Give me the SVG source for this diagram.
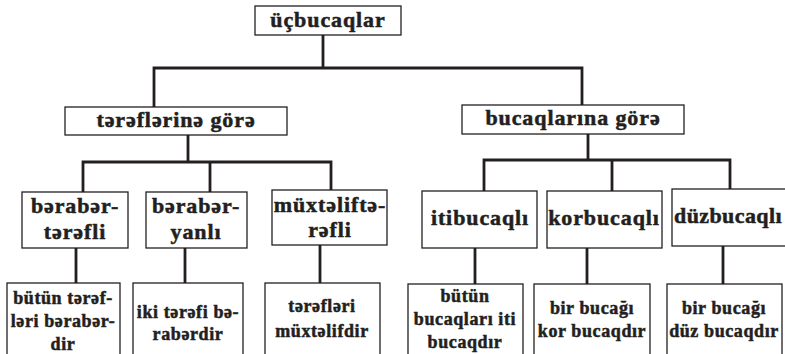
<svg xmlns="http://www.w3.org/2000/svg" width="785" height="354" viewBox="0 0 785 354">
  <style>
    .box { fill: #ffffff; stroke: #231f20; stroke-width: 1.3; }
    .wire { fill: none; stroke: #231f20; stroke-width: 2.8; stroke-linecap: square; }
    text { font-family: "Liberation Serif", "Times New Roman", "DejaVu Serif", serif; font-weight: 700; fill: #231f20; text-anchor: middle; stroke: #231f20; stroke-width: 0.5; }
    .big { font-size: 22px; letter-spacing: 0.9px; }
    .small { font-size: 18px; letter-spacing: 0.6px; }
    .tight { letter-spacing: 0.4px; }
  </style>
  <rect width="785" height="354" fill="#ffffff"/>

  <!-- connectors -->
  <g id="connectors" class="wire">
    <path d="M323 35 V68 M154 68 H582 M154 68 V107 M582 68 V105"/>
    <path d="M188 135 V162 M83 162 H331 M83 162 V192 M210 162 V192 M331 162 V190"/>
    <path d="M588 134 V160 M484 160 H730 M484 160 V191 M612 160 V191 M730 160 V189"/>
    <path d="M76 248 V283 M185 248 V283 M320 245 V283"/>
    <path d="M475 248 V284 M587 248 V284 M723 246 V284"/>
  </g>

  <!-- level 0 -->
  <g id="n-root">
    <rect class="box" x="255" y="6" width="146" height="29"/>
    <text class="big" x="328" y="27">üçbucaqlar</text>
  </g>

  <!-- level 1 -->
  <g id="n-sides">
    <rect class="box" x="65" y="107" width="222" height="28"/>
    <text class="big" x="176" y="127">tərəflərinə görə</text>
  </g>
  <g id="n-angles">
    <rect class="box" x="462" y="105" width="222" height="29"/>
    <text class="big" x="573" y="125">bucaqlarına görə</text>
  </g>

  <!-- level 2 -->
  <g id="n-equilateral">
    <rect class="box" x="22" y="192" width="106" height="56"/>
    <text class="big" x="75" y="213">bərabər-</text>
    <text class="big" x="75" y="239">tərəfli</text>
  </g>
  <g id="n-isosceles">
    <rect class="box" x="146" y="192" width="101" height="56"/>
    <text class="big" x="196" y="213">bərabər-</text>
    <text class="big" x="196" y="239">yanlı</text>
  </g>
  <g id="n-scalene">
    <rect class="box" x="272" y="190" width="115" height="55"/>
    <text class="big" x="330" y="212">müxtəliftə-</text>
    <text class="big" x="330" y="237">rəfli</text>
  </g>
  <g id="n-acute">
    <rect class="box" x="422" y="191" width="115" height="57"/>
    <text class="big" x="480" y="225">itibucaqlı</text>
  </g>
  <g id="n-obtuse">
    <rect class="box" x="547" y="191" width="115" height="57"/>
    <text class="big" x="604" y="225">korbucaqlı</text>
  </g>
  <g id="n-right">
    <rect class="box" x="672" y="189" width="120" height="57"/>
    <text class="big tight" x="728" y="223">düzbucaqlı</text>
  </g>

  <!-- level 3 -->
  <g id="d-equilateral">
    <rect class="box" x="7" y="283" width="113" height="80"/>
    <text class="small" x="63" y="304">bütün tərəf-</text>
    <text class="small" x="63" y="327">ləri bərabər-</text>
    <text class="small" x="63" y="350">dir</text>
  </g>
  <g id="d-isosceles">
    <rect class="box" x="133" y="283" width="110" height="80"/>
    <text class="small" x="188" y="318">iki tərəfi bə-</text>
    <text class="small" x="188" y="340">rabərdir</text>
  </g>
  <g id="d-scalene">
    <rect class="box" x="265" y="283" width="115" height="80"/>
    <text class="small" x="322" y="312">tərəfləri</text>
    <text class="small" x="322" y="337">müxtəlifdir</text>
  </g>
  <g id="d-acute">
    <rect class="box" x="408" y="284" width="115" height="80"/>
    <text class="small" x="465" y="302">bütün</text>
    <text class="small" x="465" y="325">bucaqları iti</text>
    <text class="small" x="465" y="348">bucaqdır</text>
  </g>
  <g id="d-obtuse">
    <rect class="box" x="534" y="284" width="116" height="80"/>
    <text class="small" x="592" y="314">bir bucağı</text>
    <text class="small" x="592" y="337">kor bucaqdır</text>
  </g>
  <g id="d-right">
    <rect class="box" x="667" y="284" width="115" height="80"/>
    <text class="small" x="724" y="314">bir bucağı</text>
    <text class="small" x="724" y="337">düz bucaqdır</text>
  </g>
</svg>
